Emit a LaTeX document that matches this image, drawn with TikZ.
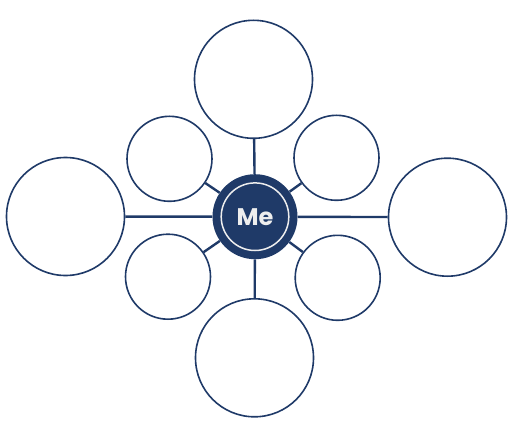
\documentclass[tikz,border=0pt]{standalone}
\usepackage{fontspec}
\setmainfont{Poppins}
\definecolor{navy}{HTML}{1F3A68}
\definecolor{txt}{HTML}{EEEEEE}
\begin{document}
\begin{tikzpicture}[x=1pt,y=-1pt,
  bigc/.style={circle,draw=navy,line width=1.6pt,minimum size=118pt,inner sep=0pt,fill=white},
  smallc/.style={circle,draw=navy,line width=1.6pt,minimum size=85pt,inner sep=0pt,fill=white},
  link/.style={draw=navy,line width=2.4pt}]
\useasboundingbox (0,0) rectangle (512,431);
\node[circle,fill=navy,minimum size=85pt,inner sep=0pt] (me) at (255,216.7) {};
\draw[txt,line width=1.5pt] (me.center) circle (33.8pt);
\node[text=txt,font=\fontsize{24}{24}\selectfont\bfseries] (lbl) at (me.center) {Me};
\node[bigc] (top) at (253.5,79.3) {};
\node[bigc] (bot) at (254.5,357.8) {};
\node[bigc] (lft) at (65.5,216.5) {};
\node[bigc] (rgt) at (447.5,217.2) {};
\node[smallc] (ul) at (169.5,158.8) {};
\node[smallc] (ur) at (336.5,157.8) {};
\node[smallc] (ll) at (168,276.7) {};
\node[smallc] (lr) at (337.7,277.8) {};
\foreach \n in {top,bot,lft,rgt,ul,ur,ll,lr}
  \path[link] (me) -- (\n);
\end{tikzpicture}
\end{document}
